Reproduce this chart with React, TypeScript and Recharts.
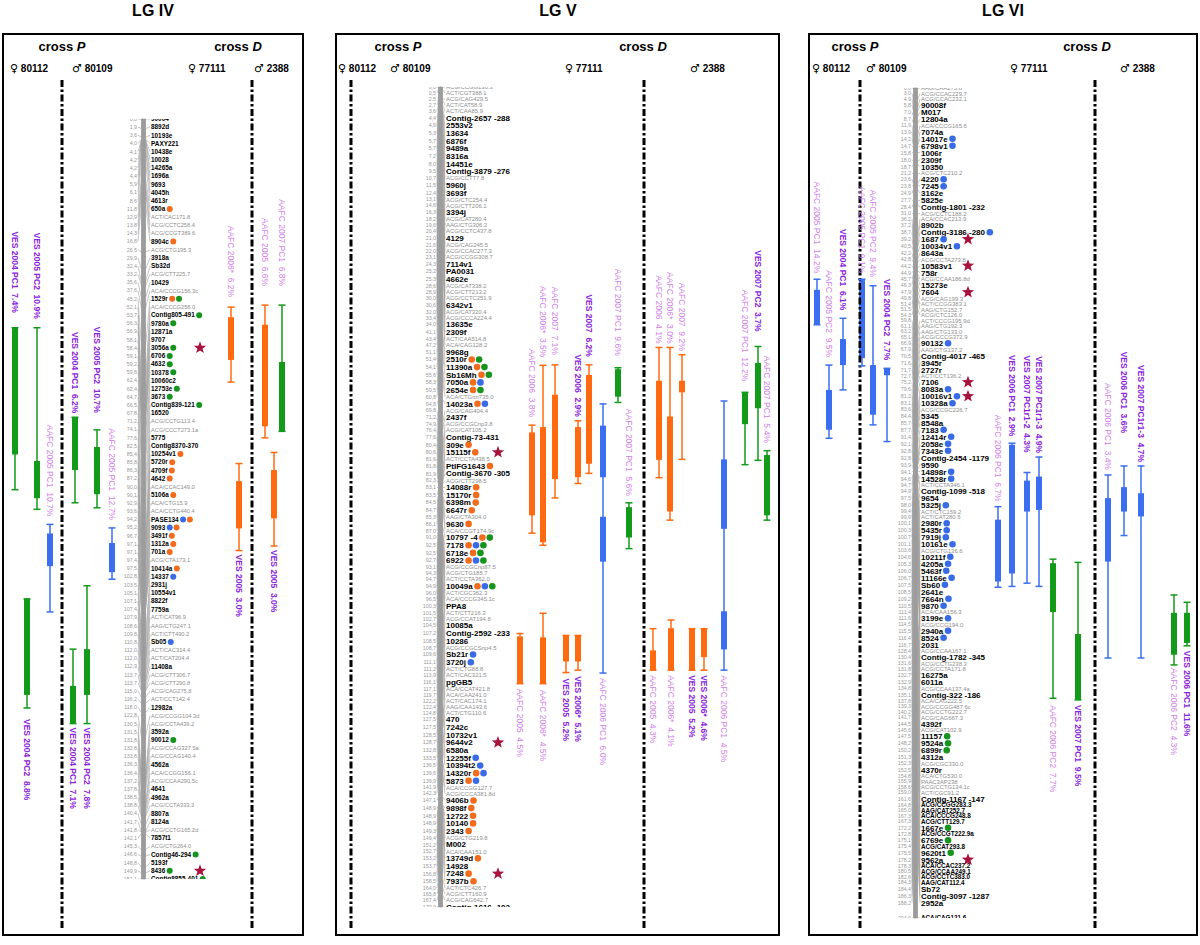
import React from 'react';
import { ComposedChart, XAxis, YAxis, Line, Scatter, ReferenceArea, ReferenceLine } from 'recharts';

// marker: [cM, name, kind (b = bold locus, g = grey AFLP, k = dark AFLP), QTL dots]
type Marker = [number, string, string, string];
// qtl: [label, trait colour, lower cM, upper cM, thick boxes]
type Qtl = [string, string, number, number, [number, number][]];

const lgIVMarkers: Marker[] = [
  [0.0, '90004', 'b', ''], [1.9, '8892d', 'b', ''], [3.6, '10193e', 'b', ''], [4.0, 'PAXY221', 'b', ''],
  [4.1, '10438e', 'b', ''], [4.2, '10028', 'b', ''], [4.2, '14265a', 'b', ''], [4.4, '1696a', 'b', ''],
  [5.9, '9693', 'b', ''], [6.1, '4045h', 'b', ''], [8.6, '4613r', 'b', ''], [11.8, '650a', 'b', 'o'],
  [12.9, 'ACT/CAC171.8', 'g', ''], [13.8, 'ACG/CCTC258.4', 'g', ''], [14.3, 'ACG/CCGT389.6', 'g', ''],
  [16.8, '8904c', 'b', 'o'], [26.5, 'ACG/CTG195.3', 'g', ''], [29.9, '3918a', 'b', ''], [32.4, 'Sb32d', 'b', ''],
  [33.2, 'ACG/CTT225.7', 'g', ''], [35.6, '10429', 'b', ''], [37.6, 'ACA/CCCG156.3c', 'g', ''],
  [45.2, '1529r', 'b', 'og'], [52.1, 'ACA/CCCG258.0', 'g', ''], [53.7, 'Contig805-491', 'b', 'g'],
  [56.3, '9780a', 'b', 'g'], [56.9, '12871a', 'b', ''], [58.1, '9707', 'b', ''], [58.4, '3056a', 'b', 'g'],
  [59.1, '6706', 'b', 'g'], [59.2, '4632', 'b', 'g'], [59.8, '10378', 'b', 'g'], [62.4, '10060c2', 'b', ''],
  [62.4, '12753e', 'b', 'g'], [64.7, '3673', 'b', 'g'], [66.5, 'Contig839-121', 'b', 'g'], [67.8, '16520', 'b', ''],
  [71.2, 'ACG/CCTG113.4', 'g', ''], [74.1, 'ACG/CCCT273.1a', 'g', ''], [77.6, '5775', 'b', ''],
  [82.5, 'Contig8370-370', 'b', ''], [85.4, '10254v1', 'b', 'o'], [85.8, '5720r', 'b', 'o'], [86.3, '4709f', 'b', 'o'],
  [87.2, '4642', 'b', 'o'], [90.0, 'ACA/CCAC149.0', 'g', ''], [90.1, '5106a', 'b', 'o'], [92.9, 'ACA/CTG15.9', 'g', ''],
  [93.6, 'ACA/CCTG440.4', 'g', ''], [94.2, 'PASE134', 'b', 'bo'], [95.2, '9093', 'b', 'bo'], [96.7, '3491f', 'b', 'o'],
  [97.1, '1312a', 'b', 'o'], [97.1, '701a', 'b', 'o'], [97.4, 'ACG/CTA173.1', 'g', ''], [97.5, '10414a', 'b', 'o'],
  [102.8, '14337', 'b', 'b'], [103.5, '2931j', 'b', ''], [105.1, '10554v1', 'b', ''], [107.1, '8822f', 'b', ''],
  [107.4, '7759a', 'b', ''], [107.9, 'ACT/CAT96.9', 'g', ''], [108.6, 'AAG/CTG247.1', 'g', ''],
  [109.8, 'ACT/CTT490.2', 'g', ''], [110.8, 'Sb05', 'b', 'b'], [112.0, 'ACT/CAC314.4', 'g', ''],
  [112.0, 'ACT/CAT204.4', 'g', ''], [112.9, '11408a', 'b', ''], [113.7, 'ACG/CTT306.7', 'g', ''],
  [113.7, 'ACG/CTT290.8', 'g', ''], [115.0, 'ACG/CAG275.8', 'g', ''], [116.2, 'ACT/CCT142.4', 'g', ''],
  [118.0, '12982a', 'b', ''], [122.8, 'ACG/CCGG104.3d', 'g', ''], [130.5, 'ACG/CCTA439.2', 'g', ''],
  [131.5, '3592a', 'b', ''], [131.8, '90012', 'b', 'g'], [132.8, 'ACG/CCAG327.5a', 'g', ''],
  [133.8, 'ACG/CCAG140.4', 'g', ''], [136.3, '4562a', 'b', ''], [136.4, 'ACA/CCGG156.1', 'g', ''],
  [137.2, 'ACG/CCAA290.5c', 'g', ''], [137.8, '4641', 'b', ''], [138.5, '4962a', 'b', ''],
  [138.8, 'ACG/CCTA333.3', 'g', ''], [140.4, '8807a', 'b', ''], [141.7, '8124a', 'b', ''],
  [141.8, 'ACG/CCTG165.2d', 'g', ''], [142.1, '7857t1', 'b', ''], [145.3, 'ACG/CTG264.0', 'g', ''],
  [146.6, 'Contig46-294', 'b', 'g'], [148.8, '5193f', 'b', ''], [149.9, '8436', 'b', 'g'],
  [151.1, 'Contig8855-401', 'b', 'g'],
];
const lgIVStars = ['3056a', '8436'];
const lgIVQtls: Qtl[] = [
  ['VES 2004 PC1  7.4%', 'g', 41.5, 73.7, [[41.5, 66.7]]],
  ['VES 2005 PC2  10.9%', 'g', 41.5, 77.6, [[68.0, 75.4]]],
  ['AAFC 2005 PC1  10.7%', 'b', 80.6, 98.0, [[82.4, 88.9]]],
  ['VES 2004 PC2  8.8%', 'g', 95.4, 117.1, [[95.4, 114.5]]],
  ['VES 2004 PC1  6.2%', 'g', 59.3, 76.3, [[59.3, 69.8]]],
  ['VES 2005 PC2  10.7%', 'g', 61.8, 77.3, [[65.2, 74.6]]],
  ['AAFC 2005 PC1  12.7%', 'b', 81.3, 91.5, [[84.3, 90.1]]],
  ['VES 2004 PC1  7.1%', 'g', 105.4, 120.2, [[112.7, 120.2]]],
  ['VES 2004 PC2  7.8%', 'g', 92.8, 120.2, [[105.4, 114.5]]],
  ['AAFC 2006*  6.2%', 'o', 37.4, 52.3, [[39.4, 47.9]]],
  ['AAFC 2005  6.6%', 'o', 37.0, 63.4, [[40.9, 61.1]]],
  ['AAFC 2007 PC1  6.8%', 'g', 37.0, 62.1, [[48.3, 62.1]]],
  ['VES 2005  3.0%', 'o', 68.5, 85.8, [[72.0, 81.4]]],
  ['VES 2005  3.0%', 'o', 66.3, 84.9, [[69.8, 79.4]]],
];

const lgVMarkers: Marker[] = [
  [0.0, 'ACG/CCGG130.3', 'g', ''], [0.5, 'ACT/CGT388.1', 'g', ''], [2.5, 'ACG/CAG429.5', 'g', ''],
  [2.7, 'ACT/CAT58.9', 'g', ''], [3.6, 'ACT/CAA85.9', 'g', ''], [4.4, 'Contig-2657 -288', 'b', ''],
  [4.9, '2553v2', 'b', ''], [5.3, '13634', 'b', ''], [5.7, '6876f', 'b', ''], [5.7, '9489a', 'b', ''],
  [7.2, '8316a', 'b', ''], [8.0, '14451e', 'b', ''], [9.5, 'Contig-3879 -276', 'b', ''], [10.7, 'ACG/CCTT7.8', 'g', ''],
  [11.5, '5960j', 'b', ''], [12.4, '3693f', 'b', ''], [13.1, 'ACG/CTC254.4', 'g', ''], [14.6, 'ACG/CTT206.1', 'g', ''],
  [16.3, '3394j', 'b', ''], [18.2, 'ACG/CAT280.4', 'g', ''], [19.6, 'AAG/CTG306.2', 'g', ''],
  [20.4, 'ACG/CCTC437.8', 'g', ''], [21.0, '4129', 'b', ''], [21.6, 'ACG/CAG245.5', 'g', ''],
  [22.0, 'ACG/CCAC277.3', 'g', ''], [23.1, 'ACG/CCGG308.7', 'g', ''], [24.3, '7114v1', 'b', ''],
  [25.2, 'PA0031', 'b', ''], [25.3, '4662e', 'b', ''], [28.6, 'ACG/CAT338.2', 'g', ''], [28.9, 'ACG/CTT213.2', 'g', ''],
  [30.0, 'ACG/CCTC251.9', 'g', ''], [30.6, '6342v1', 'b', ''], [32.0, 'ACG/CAT320.4', 'g', ''],
  [33.4, 'ACG/CCCA224.4', 'g', ''], [34.0, '13635e', 'b', ''], [41.1, '2309f', 'b', ''], [43.4, 'ACT/CAA514.8', 'g', ''],
  [47.2, 'ACA/CAG128.2', 'g', ''], [51.1, '9968g', 'b', ''], [51.4, '2510r', 'b', 'og'], [54.1, '11390a', 'b', 'og'],
  [55.6, 'Sb16Mh', 'b', 'og'], [58.3, '7050a', 'b', 'ob'], [59.5, '2654e', 'b', 'og'], [60.8, 'ACA/CTGnn735.0', 'g', ''],
  [64.8, '14023a', 'b', 'ob'], [69.8, 'ACG/CAG404.4', 'g', ''], [71.2, '2437f', 'b', ''], [74.9, 'ACG/CCGCnp3.8', 'g', ''],
  [76.4, 'ACG/CAT105.2', 'g', ''], [77.6, 'Contig-73-431', 'b', ''], [80.4, '309e', 'b', 'o'], [80.6, '15115f', 'b', 'o'],
  [81.6, 'ACT/CCTA438.5', 'g', ''], [81.8, 'PtIFG1643', 'b', 'o'], [81.9, 'Contig-3670 -305', 'b', ''],
  [82.3, 'ACG/CTT298.5', 'g', ''], [83.1, '14088r', 'b', 'o'], [83.5, '15170r', 'b', 'o'], [84.5, '6398m', 'b', 'o'],
  [84.7, '6647r', 'b', 'o'], [85.3, 'AAG/CTA304.0', 'g', ''], [86.1, '9630', 'b', 'o'], [87.0, 'ACA/CCGT174.9c', 'g', ''],
  [91.0, '10797 -4', 'b', 'og'], [92.5, '7178', 'b', 'obg'], [92.5, '6718e', 'b', 'og'], [92.7, '6922', 'b', 'obg'],
  [93.1, 'ACG/CCGCnp87.5', 'g', ''], [94.3, 'ACG/CTG185.7', 'g', ''], [94.7, 'ACT/CCTA362.0', 'g', ''],
  [94.9, '10049a', 'b', 'obg'], [96.0, 'ACT/CGC362.3', 'g', ''], [96.5, 'ACA/CCCG345.1c', 'g', ''], [100.3, 'PPA8', 'b', ''],
  [101.5, 'ACT/CTT216.3', 'g', ''], [102.7, 'ACG/CCAT194.8', 'g', ''], [104.5, '10085a', 'b', ''],
  [107.2, 'Contig-2592 -233', 'b', ''], [108.5, '10286', 'b', ''], [108.7, 'ACG/CCGCSnp4.5', 'g', ''],
  [109.6, 'Sb21r', 'b', 'b'], [111.1, '3720j', 'b', 'b'], [111.2, 'ACT/CTG88.8', 'g', ''], [113.9, 'ACT/CAC321.5', 'g', ''],
  [116.1, 'pgGB5', 'b', ''], [117.1, 'ACA/CCAT421.8', 'g', ''], [119.7, 'ACA/CAA241.0', 'g', ''],
  [122.2, 'ACT/CAC174.1', 'g', ''], [122.4, 'AAG/CAA143.6', 'g', ''], [124.8, 'ACT/CTG110.6', 'g', ''],
  [127.5, '470', 'b', ''], [127.5, '7242c', 'b', ''], [128.5, '10732v1', 'b', ''], [128.7, '9644v2', 'b', ''],
  [132.8, '6580a', 'b', ''], [133.5, '12255f', 'b', 'b'], [136.5, '10394t2', 'b', 'b'], [139.6, '14320r', 'b', 'ob'],
  [139.9, '5873', 'b', 'ob'], [141.9, 'ACA/CCGG127.7', 'g', ''], [142.3, 'ACG/CCCA381.8d', 'g', ''],
  [147.1, '9406b', 'b', 'o'], [148.9, '9898f', 'b', 'o'], [148.9, '12722', 'b', 'o'], [148.9, '10140', 'b', 'o'],
  [149.3, '2343', 'b', 'o'], [149.4, 'ACG/CTG219.8', 'g', ''], [151.2, 'M002', 'b', ''], [152.7, 'ACA/CAA151.0', 'g', ''],
  [153.2, '13749d', 'b', 'o'], [153.7, '14928', 'b', ''], [156.8, '7248', 'b', 'o'], [158.5, '7937b', 'b', 'o'],
  [164.0, 'ACT/CTC426.7', 'g', ''], [165.8, 'ACG/CTT160.9', 'g', ''], [167.4, 'ACG/CAG642.7', 'g', ''],
  [170.0, 'Contig-1616 -102', 'b', ''],
];
const lgVStars = ['15115f', '9644v2', '7248'];
const lgVQtls: Qtl[] = [
  ['AAFC 2006  3.8%', 'o', 70.1, 92.5, [[71.6, 88.8]]],
  ['AAFC 2006*  3.5%', 'o', 57.7, 95.0, [[70.5, 94.4]]],
  ['AAFC 2007  7.1%', 'o', 57.6, 85.2, [[63.8, 81.3]]],
  ['VES 2006  2.9%', 'o', 69.2, 82.2, [[70.5, 80.9]]],
  ['VES 2007  6.2%', 'o', 57.6, 80.1, [[59.7, 78.1]]],
  ['AAFC 2007 PC1  9.6%', 'g', 58.2, 65.4, [[58.5, 64.2]]],
  ['AAFC 2006 PC1  6.0%', 'b', 65.7, 121.5, [[70.2, 80.9], [89.1, 98.4]]],
  ['AAFC 2007 PC1  5.6%', 'g', 86.2, 95.7, [[87.1, 93.4]]],
  ['AAFC 2006*  4.5%', 'o', 109.1, 123.7, [[114.1, 123.7]]],
  ['AAFC 2005  4.5%', 'o', 113.3, 123.7, [[113.9, 123.7]]],
  ['VES 2006*  5.1%', 'o', 113.7, 120.9, [[113.7, 119.1]]],
  ['VES 2005  5.2%', 'o', 113.7, 121.4, [[113.7, 119.1]]],
  ['AAFC 2006  4.1%', 'o', 54.0, 81.0, [[60.9, 77.3]]],
  ['AAFC 2006*  3.0%', 'o', 54.0, 89.8, [[68.3, 88.0]]],
  ['AAFC 2007  9.2%', 'o', 55.5, 77.2, [[60.9, 63.3]]],
  ['VES 2007 PC2  3.7%', 'g', 53.8, 77.4, [[57.2, 66.6]]],
  ['AAFC 2007 PC1  12.2%', 'g', 63.3, 78.3, [[63.3, 69.9]]],
  ['AAFC 2007 PC1  5.4%', 'g', 75.4, 89.8, [[76.3, 88.8]]],
  ['AAFC 2006 PC1  4.5%', 'b', 65.1, 120.9, [[77.2, 91.6], [108.7, 116.6]]],
  ['AAFC 2005  4.3%', 'o', 112.3, 120.9, [[116.8, 120.9]]],
  ['AAFC 2006*  4.1%', 'o', 110.5, 120.9, [[112.2, 120.9]]],
  ['VES 2005  5.2%', 'o', 112.3, 120.9, [[112.3, 120.9]]],
  ['VES 2006*  4.6%', 'o', 112.3, 120.9, [[112.3, 118.2]]],
];

const lgVIMarkers: Marker[] = [
  [0.0, 'AAG/CAA275.8', 'g', ''], [3.0, 'ACG/CCAC229.7', 'g', ''], [4.9, 'ACG/CCAC232.1', 'g', ''],
  [5.8, '90008f', 'b', ''], [7.0, 'M017', 'b', ''], [8.7, '12804a', 'b', ''], [11.9, 'ACA/CCCG165.6', 'g', ''],
  [13.9, '7074a', 'b', ''], [14.2, '14017e', 'b', 'b'], [14.7, '6798v1', 'b', 'b'], [15.8, '1006r', 'b', ''],
  [18.0, '2309f', 'b', ''], [18.7, '10350', 'b', ''], [21.2, 'ACG/CTC210.2', 'g', ''], [23.6, '4220', 'b', 'b'],
  [23.8, '7245', 'b', 'b'], [24.9, '3162e', 'b', ''], [27.7, '5825e', 'b', ''], [28.4, 'Contig-1801 -232', 'b', ''],
  [31.0, 'ACG/CCTC188.2', 'g', ''], [36.2, 'ACA/CCAC213.9', 'g', ''], [37.2, '8902b', 'b', ''],
  [38.7, 'Contig-3186 -280', 'b', 'b'], [39.2, '1687', 'b', 'b'], [40.5, '10034v1', 'b', 'b'], [42.2, '8643a', 'b', ''],
  [42.8, 'ACG/CCTA273.8', 'g', ''], [44.2, '10583v1', 'b', ''], [44.9, '758r', 'b', ''], [45.7, 'ACG/CCAA186.8d', 'g', ''],
  [46.3, '15273e', 'b', ''], [47.9, '7604', 'b', ''], [49.8, 'ACG/CAG199.3', 'g', ''], [51.4, 'ACT/CCGG383.1', 'g', ''],
  [51.5, 'AAG/CTG152.7', 'g', ''], [54.3, 'ACG/CTC126.0', 'g', ''], [59.8, 'ACT/CCCG195.9d', 'g', ''],
  [61.1, 'AAG/CTG192.3', 'g', ''], [63.2, 'AAG/CTG133.0', 'g', ''], [65.1, 'ACG/CCCG372.9', 'g', ''],
  [66.9, '90132', 'b', 'b'], [67.9, 'AAG/CTG137.2', 'g', ''], [70.5, 'Contig-4017 -465', 'b', ''], [71.6, '3945r', 'b', ''],
  [71.7, '2727r', 'b', ''], [72.7, 'ACT/CCT136.2', 'g', ''], [75.2, '7106', 'b', ''], [79.6, '8083a', 'b', 'b'],
  [81.2, '10016v1', 'b', 'b'], [83.1, '10328a', 'b', 'b'], [83.6, 'ACG/CCGC226.7', 'g', ''], [84.4, '5345', 'b', ''],
  [85.7, '8548a', 'b', ''], [87.7, '7183', 'b', 'b'], [91.4, '12414r', 'b', 'b'], [92.1, '2058e', 'b', 'b'],
  [92.8, '7343e', 'b', 'b'], [92.8, 'Contig-2454 -1179', 'b', ''], [93.9, '9590', 'b', ''], [94.1, '14898r', 'b', 'b'],
  [94.6, '14528r', 'b', 'b'], [94.7, 'ACT/CCTA346.1', 'g', ''], [94.9, 'Contig-1099 -518', 'b', ''], [97.5, '9654', 'b', ''],
  [98.0, '5325j', 'b', 'b'], [99.4, 'ACT/CTC159.2', 'g', ''], [99.9, 'ACT/CAT280.5', 'g', ''], [100.1, '2980r', 'b', 'b'],
  [100.3, '5435r', 'b', 'b'], [100.7, '7919j', 'b', 'b'], [101.1, '10161e', 'b', 'b'], [103.6, 'ACG/CTG136.6', 'g', ''],
  [104.6, '10211f', 'b', 'b'], [105.3, '4205a', 'b', 'b'], [106.0, '5463f', 'b', 'b'], [106.7, '11166e', 'b', 'b'],
  [107.5, 'Sb60', 'b', 'b'], [108.5, '2641e', 'b', ''], [109.2, '7664n', 'b', 'b'], [110.5, '9870', 'b', 'b'],
  [111.4, 'ACA/CAA156.3', 'g', ''], [111.6, '3199e', 'b', 'b'], [114.5, 'ACG/CCG194.0', 'g', ''],
  [115.5, '2940a', 'b', 'b'], [116.4, '8524', 'b', 'b'], [116.7, '2031', 'b', ''], [128.4, 'ACG/CCAA167.1', 'g', ''],
  [130.4, 'Contig-1782 -345', 'b', ''], [131.6, 'ACG/CCTG238.3', 'g', ''], [131.8, 'ACG/CCTA171.8', 'g', ''],
  [132.7, '16275a', 'b', ''], [132.9, '6011a', 'b', ''], [134.8, 'ACG/CCAA137.4a', 'g', ''],
  [135.1, 'Contig-322 -186', 'b', ''], [137.8, 'ACA/CAG222.5', 'g', ''], [139.3, 'ACG/CCGG487.6c', 'g', ''],
  [140.2, 'ACG/CCTG222.7', 'g', ''], [141.7, 'ACG/CAG667.3', 'g', ''], [144.5, '4392f', 'b', ''],
  [145.6, 'ACG/CAT102.9', 'g', ''], [147.5, '11157', 'b', 'g'], [148.2, '9524a', 'b', 'g'], [150.2, '6899r', 'b', 'g'],
  [151.3, '4312a', 'b', ''], [152.3, 'ACG/CGC330.0', 'g', ''], [152.5, '4370r', 'b', ''], [154.8, 'ACA/CTG530.0', 'g', ''],
  [155.9, 'PAAC3AP238', 'g', ''], [158.6, 'ACG/CCTG134.1c', 'g', ''], [159.0, 'ACT/CGC91.2', 'g', ''],
  [161.6, 'Contig-1167 -147', 'b', ''], [164.8, 'ACG/CCGG283.3', 'k', ''], [165.0, 'AAG/CAT252.7', 'k', ''],
  [167.3, 'ACA/CCCG248.8', 'k', ''], [167.3, 'ACG/CTT129.7', 'k', ''], [172.2, '1667e', 'b', 'g'],
  [172.8, 'ACG/CCGT222.9a', 'k', ''], [175.1, '6769e', 'b', 'g'], [175.4, 'ACG/CAT293.8', 'k', ''],
  [175.5, '9620t1', 'b', 'g'], [178.2, '9562a', 'b', ''], [178.3, 'ACA/CCAC237.2', 'k', ''],
  [180.5, 'ACG/CCAA249.1', 'k', ''], [182.6, 'ACG/CCTC383.0', 'k', ''], [184.3, 'AAG/CAT112.4', 'k', ''],
  [184.4, 'Sb72', 'b', ''], [186.3, 'Contig-3097 -1287', 'b', ''], [188.2, '2952a', 'b', ''],
  [204.0, 'ACA/CAG121.6', 'k', ''],
];
const lgVIStars = ['1687', '10583v1', '7604', '7106', '10016v1', '9562a'];
const lgVIQtls: Qtl[] = [
  ['AAFC 2005 PC1  14.2%', 'b', 47.0, 58.2, [[49.6, 58.2]]],
  ['AAFC 2005 PC2  9.5%', 'b', 68.1, 86.1, [[74.2, 84.0]]],
  ['VES 2004 PC1  6.1%', 'b', 56.6, 74.2, [[61.7, 68.1]]],
  ['AAFC 2005 PC1  9.1%', 'b', 47.0, 68.3, [[47.2, 66.4]]],
  ['AAFC 2005 PC2  9.4%', 'b', 48.6, 82.8, [[68.1, 80.3]]],
  ['VES 2004 PC2  7.7%', 'b', 68.9, 86.9, [[68.9, 70.6]]],
  ['AAFC 2006 PC1  6.7%', 'b', 102.9, 122.7, [[106.1, 121.3]]],
  ['VES 2006 PC1  2.9%', 'b', 87.3, 122.5, [[87.7, 119.3]]],
  ['VES 2007 PC1r1-2  4.3%', 'b', 94.5, 121.7, [[96.5, 104.1]]],
  ['VES 2007 PC1r1-3  4.9%', 'b', 90.7, 122.5, [[95.5, 103.7]]],
  ['AAFC 2006 PC2  7.7%', 'g', 115.8, 150.0, [[116.8, 128.8]]],
  ['VES 2007 PC1  9.5%', 'g', 116.6, 150.4, [[134.2, 150.4]]],
  ['AAFC 2006 PC1  3.4%', 'b', 95.1, 140.1, [[100.8, 116.4]]],
  ['VES 2006 PC1  3.6%', 'b', 92.9, 110.0, [[98.1, 104.1]]],
  ['VES 2007 PC1r1-3  4.7%', 'b', 92.9, 140.1, [[99.6, 105.3]]],
  ['AAFC 2006 PC2  4.3%', 'g', 124.6, 141.8, [[129.0, 139.3]]],
  ['VES 2006 PC1  11.6%', 'g', 126.4, 137.1, [[129.0, 136.4]]],
];

const W = 1200;
const H = 945;
const FONT = '"Liberation Sans", Arial, Helvetica, sans-serif';
const QTL_COLORS: Record<string, string> = { o: '#ff6a10', g: '#139a1a', b: '#3b6ef0' };
const DOT_COLORS: Record<string, string> = { o: '#f36c1d', g: '#17941e', b: '#3a6be6' };

interface Layout {
  title: string; titleX: number; frame: number[];
  yTop: number; yBottom: number;
  numRight: number; barL: number; barR: number; nameLeft: number; starX: number;
  bold: number; grey: number; num: number; dot: number; rowB: number; rowG: number;
  chromLines: number[]; crossP: number; crossD: number;
  parents: [string, string, number][];
  lanes: [number, string, number][]; // x, label side (a above / b below), label gap
}

const lgIVLayout: Layout = {
  title: 'LG IV', titleX: 153, frame: [2, 33, 304, 936], yTop: 119, yBottom: 879,
  numRight: 137, barL: 141.5, barR: 145.5, nameLeft: 151, starX: 200,
  bold: 6.4, grey: 5.7, num: 5.3, dot: 3, rowB: 8.5, rowG: 8.5,
  chromLines: [62, 252], crossP: 62, crossD: 238,
  parents: [['♀', '80112', 10], ['♂', '80109', 72], ['♀', '77111', 188], ['♂', '2388', 254]],
  lanes: [[15, 'a', 15], [37, 'a', 9], [50, 'a', 8], [27, 'b', 11], [75, 'a', 4], [97, 'a', 17], [112, 'a', 8],
    [73, 'b', 4], [87, 'b', 4], [231, 'a', 10], [265, 'a', 19], [282, 'a', 19], [239, 'b', 4], [274, 'b', 4]],
};
const lgVLayout: Layout = {
  title: 'LG V', titleX: 558, frame: [335, 33, 780, 936], yTop: 87, yBottom: 907,
  numRight: 436, barL: 438.5, barR: 442.5, nameLeft: 446, starX: 498,
  bold: 8, grey: 5.9, num: 5.3, dot: 3.3, rowB: 8, rowG: 6.3,
  chromLines: [351, 644], crossP: 398, crossD: 643,
  parents: [['♀', '80112', 338], ['♂', '80109', 390], ['♀', '77111', 565], ['♂', '2388', 690]],
  lanes: [[532, 'a', 8], [543, 'a', 8], [555, 'a', 10], [578, 'a', 4], [589, 'a', 8], [618, 'a', 12], [603, 'b', 5],
    [629, 'a', 7], [543, 'b', 6], [520, 'b', 5], [578, 'b', 6], [566, 'b', 6], [659, 'a', 4], [670, 'a', 4],
    [682, 'a', 4], [758, 'a', 15], [745, 'a', 11], [767, 'a', 8], [724, 'b', 5], [653, 'b', 5], [671, 'b', 5],
    [692, 'b', 5], [704, 'b', 5]],
};
const lgVILayout: Layout = {
  title: 'LG VI', titleX: 1003, frame: [808, 33, 1198, 936], yTop: 88, yBottom: 918,
  numRight: 911, barL: 913.5, barR: 917.5, nameLeft: 921, starX: 968,
  bold: 8, grey: 5.9, num: 5.3, dot: 3.3, rowB: 7, rowG: 5.5,
  chromLines: [860, 1095], crossP: 855, crossD: 1087,
  parents: [['♀', '80112', 812], ['♂', '80109', 866], ['♀', '77111', 1010], ['♂', '2388', 1120]],
  lanes: [[817, 'a', 6], [829, 'a', 8], [843, 'a', 8], [862, 'a', 6], [873, 'a', 9], [887, 'a', 8], [998, 'a', 5],
    [1012, 'a', 7], [1027, 'a', 20], [1039, 'a', 4], [1053, 'b', 7], [1078, 'b', 5], [1108, 'a', 5],
    [1124, 'a', 33], [1141, 'a', 4], [1174, 'b', 3], [1187, 'b', 5]],
};

const panels = [
  { markers: lgIVMarkers, stars: lgIVStars, qtls: lgIVQtls, L: lgIVLayout },
  { markers: lgVMarkers, stars: lgVStars, qtls: lgVQtls, L: lgVLayout },
  { markers: lgVIMarkers, stars: lgVIStars, qtls: lgVIQtls, L: lgVILayout },
];

let ctx: CanvasRenderingContext2D | null = null;
function textWidth(s: string, size: number, bold: boolean) {
  if (!ctx && typeof document !== 'undefined') ctx = document.createElement('canvas').getContext('2d');
  if (!ctx) return s.length * size * 0.55;
  ctx.font = `${bold ? 'bold ' : ''}${size}px ${FONT}`;
  return ctx.measureText(s).width;
}

// push labels apart (pool-adjacent-violators) so that they keep a minimum gap, within [lo, hi]
function spread(t: number[], gaps: number[], lo: number, hi: number) {
  const n = t.length;
  const off = [0];
  for (let i = 1; i < n; i++) off.push(off[i - 1] + gaps[i - 1]);
  const k = off[n - 1] > hi - lo ? (hi - lo) / off[n - 1] : 1;
  const o = off.map((v) => v * k);
  const means: number[] = [];
  const cnt: number[] = [];
  t.forEach((x, i) => {
    means.push(x - o[i]);
    cnt.push(1);
    while (means.length > 1 && means[means.length - 2] > means[means.length - 1]) {
      const c2 = cnt.pop()!, m2 = means.pop()!;
      const c1 = cnt.pop()!, m1 = means.pop()!;
      means.push((m1 * c1 + m2 * c2) / (c1 + c2));
      cnt.push(c1 + c2);
    }
  });
  const u: number[] = [];
  means.forEach((m, j) => { for (let c = 0; c < cnt[j]; c++) u.push(m); });
  const uMax = hi - o[n - 1];
  return u.map((x, i) => Math.min(Math.max(x, lo), uMax) + o[i]);
}

function starPoints(cx: number, cy: number, R: number, r: number) {
  const pts: string[] = [];
  for (let i = 0; i < 10; i++) {
    const a = -Math.PI / 2 + (i * Math.PI) / 5;
    const rad = i % 2 === 0 ? R : r;
    pts.push(`${cx + rad * Math.cos(a)},${cy + rad * Math.sin(a)}`);
  }
  return pts.join(' ');
}

const Panel = ({ markers, stars, qtls, L }: { markers: Marker[]; stars: string[]; qtls: Qtl[]; L: Layout }) => {
  const maxCM = markers[markers.length - 1][0];
  const pxPerCM = (L.yBottom - L.yTop) / maxCM;
  const heights = markers.map((m) => (m[2] === 'b' ? L.rowB : L.rowG));
  const gaps = heights.slice(1).map((h, i) => (h + heights[i]) / 2 / pxPerCM);
  const disp = spread(markers.map((m) => m[0]), gaps, 0, maxCM);

  const connectors: { x: number; y: number | null }[] = [];
  markers.forEach((m, i) => {
    connectors.push({ x: L.numRight + 1, y: disp[i] });
    connectors.push({ x: L.barL, y: m[0] });
    connectors.push({ x: L.barR, y: m[0] });
    connectors.push({ x: L.nameLeft - 1, y: disp[i] });
    connectors.push({ x: L.nameLeft - 1, y: null });
  });
  const names = markers.map((m, i) => ({ x: L.nameLeft, y: disp[i], name: m[1], kind: m[2], dots: m[3] }));
  const nums = markers.map((m, i) => ({ x: L.numRight, y: disp[i], cm: m[0] }));
  const starData = markers.map((m, i) => ({ m, i })).filter((d) => stars.includes(d.m[1]))
    .map((d) => ({ x: L.starX, y: disp[d.i] }));
  const qtlLabels = qtls.map((q, i) => {
    const [x, side, gap] = L.lanes[i];
    return { x, y: side === 'a' ? q[2] : q[3], label: q[0], side, gap, ves: q[0].startsWith('VES') };
  });
  const lineTop = (80 - L.yTop) / pxPerCM;
  const lineBottom = (930 - L.yTop) / pxPerCM;
  const f = L.frame;

  const renderName = (p: any) => {
    const d = p.payload;
    const bold = d.kind !== 'g';
    const size = d.kind === 'b' ? L.bold : d.kind === 'k' ? L.grey + 0.4 : L.grey;
    const w = textWidth(d.name, size, bold);
    return (
      <g>
        <text x={p.cx} y={p.cy} dy="0.35em" fontSize={size} fontWeight={bold ? 700 : 400}
          fill={d.kind === 'g' ? '#8e8e8e' : '#000'} fontFamily={FONT} style={{ whiteSpace: 'pre' }}>{d.name}</text>
        {d.dots.split('').map((c: string, j: number) => (
          <circle key={j} cx={p.cx + w + L.dot + 1.5 + j * (2 * L.dot + 0.8)} cy={p.cy} r={L.dot} fill={DOT_COLORS[c]} />
        ))}
      </g>
    );
  };
  const renderNum = (p: any) => (
    <text x={p.cx} y={p.cy} dy="0.35em" textAnchor="end" fontSize={L.num} fill="#999" fontFamily={FONT}>
      {p.payload.cm.toFixed(1).replace('.', ',')}
    </text>
  );
  const renderStar = (p: any) => <polygon points={starPoints(p.cx, p.cy, 6.5, 2.7)} fill="#a8123c" />;
  const renderQtlLabel = (p: any) => {
    const d = p.payload;
    const y = d.side === 'a' ? p.cy - d.gap : p.cy + d.gap;
    return (
      <text transform={`translate(${p.cx},${y}) rotate(90)`} textAnchor={d.side === 'a' ? 'end' : 'start'}
        dy="0.35em" fontSize={8.5} fontWeight={d.ves ? 700 : 400} fill={d.ves ? '#8a25dc' : '#cf82e8'}
        fontFamily={FONT} style={{ whiteSpace: 'pre' }}>{d.label}</text>
    );
  };

  return (
    <>
      <div style={{ position: 'absolute', left: L.titleX - 50, width: 100, top: 2, textAlign: 'center', fontWeight: 700, fontSize: 16 }}>
        {L.title}
      </div>
      <div style={{ position: 'absolute', left: f[0], top: f[1], width: f[2] - f[0], height: f[3] - f[1], border: '2px solid #000', boxSizing: 'border-box' }} />
      {[['cross ', 'P', L.crossP], ['cross ', 'D', L.crossD]].map(([a, b, x]) => (
        <div key={b as string} style={{ position: 'absolute', left: (x as number) - 40, width: 80, top: 39, textAlign: 'center', fontWeight: 700, fontSize: 13 }}>
          {a}<i>{b}</i>
        </div>
      ))}
      {L.parents.map(([sym, t, x]) => (
        <div key={t} style={{ position: 'absolute', left: x, top: 62, fontWeight: 700, fontSize: 10, whiteSpace: 'nowrap' }}>
          <span style={{ fontFamily: '"DejaVu Sans", sans-serif', fontWeight: 400, fontSize: 11 }}>{sym}</span> {t}
        </div>
      ))}
      <div style={{ position: 'absolute', left: 0, top: 0 }}>
        <ComposedChart width={W} height={H} margin={{ top: L.yTop, bottom: H - L.yBottom, left: 0, right: 0 }}>
          <XAxis type="number" dataKey="x" domain={[0, W]} hide allowDataOverflow />
          <YAxis type="number" dataKey="y" domain={[0, maxCM]} reversed hide allowDataOverflow />
          {L.chromLines.map((x) => (
            <ReferenceLine key={`c${x}`} segment={[{ x, y: lineTop }, { x, y: lineBottom }]} stroke="#000"
              strokeWidth={3} strokeDasharray="7 2.5 2.5 2.5" ifOverflow="visible" />
          ))}
          <ReferenceArea x1={L.barL} x2={L.barR} y1={0} y2={maxCM} fill="#9c9c9c" fillOpacity={1} stroke="#888" strokeWidth={0.6} ifOverflow="visible" />
          <Line data={connectors} dataKey="y" type="linear" stroke="#a0a0a0" strokeWidth={0.6} dot={false} activeDot={false}
            connectNulls={false} isAnimationActive={false} />
          {qtls.map((q, i) => {
            const x = L.lanes[i][0];
            const c = QTL_COLORS[q[1]];
            return (
              <React.Fragment key={`q${i}`}>
                <ReferenceLine segment={[{ x, y: q[2] }, { x, y: q[3] }]} stroke={c} strokeWidth={1.5} ifOverflow="visible" />
                <ReferenceLine segment={[{ x: x - 3.5, y: q[2] }, { x: x + 3.5, y: q[2] }]} stroke={c} strokeWidth={1.5} ifOverflow="visible" />
                <ReferenceLine segment={[{ x: x - 3.5, y: q[3] }, { x: x + 3.5, y: q[3] }]} stroke={c} strokeWidth={1.5} ifOverflow="visible" />
                {q[4].map((b, j) => (
                  <ReferenceArea key={j} x1={x - 3} x2={x + 3} y1={b[0]} y2={b[1]} fill={c} fillOpacity={1} stroke="none" ifOverflow="visible" />
                ))}
              </React.Fragment>
            );
          })}
          <Scatter data={nums} shape={renderNum} isAnimationActive={false} />
          <Scatter data={names} shape={renderName} isAnimationActive={false} />
          <Scatter data={starData} shape={renderStar} isAnimationActive={false} />
          <Scatter data={qtlLabels} shape={renderQtlLabel} isAnimationActive={false} />
        </ComposedChart>
      </div>
    </>
  );
};

export default function App() {
  return (
    <div style={{ position: 'absolute', left: 0, top: 0, width: W, height: H, background: '#fff', fontFamily: FONT, overflow: 'hidden' }}>
      {panels.map((p) => (
        <Panel key={p.L.title} {...p} />
      ))}
    </div>
  );
}
